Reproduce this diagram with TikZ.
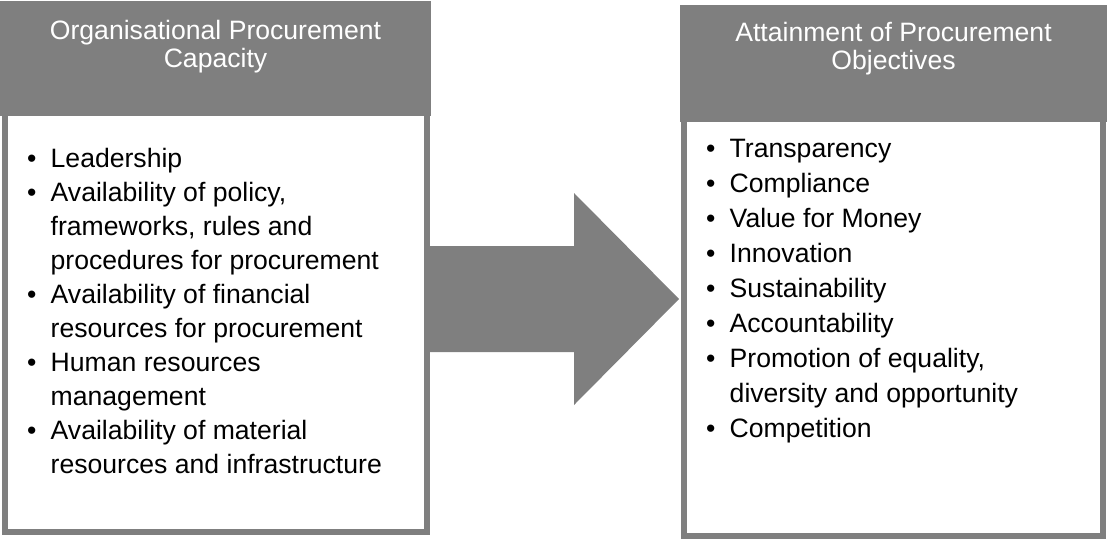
\documentclass[tikz,border=0pt]{standalone}
\usepackage{fontspec}
\setmainfont{Liberation Sans}
\usetikzlibrary{positioning}
\definecolor{gris}{HTML}{7F7F7F}
\newcommand{\puce}{\makebox[23.5pt][l]{\textbullet}}
\newcommand{\suite}{\hspace*{23.5pt}}
\begin{document}
\begin{tikzpicture}[x=1pt, y=-1pt]
\tikzstyle{entete} = [rectangle, fill=gris, draw=none, anchor=north west, inner sep=0, outer sep=0];
\tikzstyle{cadre} = [rectangle, draw=gris, line width=6pt, fill=white, anchor=south west, inner sep=0, outer sep=0];
\tikzstyle{titre} = [text=white, align=center, anchor=base, inner sep=0, font=\fontsize{26.6}{28}\selectfont];
\tikzstyle{liste} = [align=left, anchor=base west, inner sep=0];
\tikzstyle{fleche} = [fill=gris, draw=none];
\useasboundingbox (0,0) rectangle (1107,541);

% la fleche
\coordinate (queue) at (424,299);
\coordinate (pointe) at (679,299);
\fill[fleche] (queue) ++(0,-53) -- ++(150,0) -- ++(0,-53) -- (pointe)
  -- ++(-105,106) -- ++(0,-53) -- ++(-150,0) -- cycle;

% les cadres
\node[cadre, minimum width=422pt, minimum height=427pt] (cadreG) at (5,532) { };
\node[cadre, minimum width=419pt, minimum height=426pt] (cadreO) at (684,536) { };
\node[entete, minimum width=431pt, minimum height=115pt] (hG) at (0,1) { };
\node[entete, minimum width=427pt, minimum height=117pt] (hO) at (680,5) { };

\node[titre] (tG) at (215.5,67) {Organisational Procurement\\Capacity};
\node[titre] (tO) at (893.5,69) {Attainment of Procurement\\Objectives};

\node[liste, font=\fontsize{26.6}{34}\selectfont] (lG) at (27,473) {\puce Leadership\\
\puce Availability of policy,\\
\suite frameworks, rules and\\
\suite procedures for procurement\\
\puce Availability of financial\\
\suite resources for procurement\\
\puce Human resources\\
\suite management\\
\puce Availability of material\\
\suite resources and infrastructure};
\node[liste, font=\fontsize{26.6}{34.9}\selectfont] (lO) at (706,437) {\puce Transparency\\
\puce Compliance\\
\puce Value for Money\\
\puce Innovation\\
\puce Sustainability\\
\puce Accountability\\
\puce Promotion of equality,\\
\suite diversity and opportunity\\
\puce Competition};
\end{tikzpicture}
\end{document}
